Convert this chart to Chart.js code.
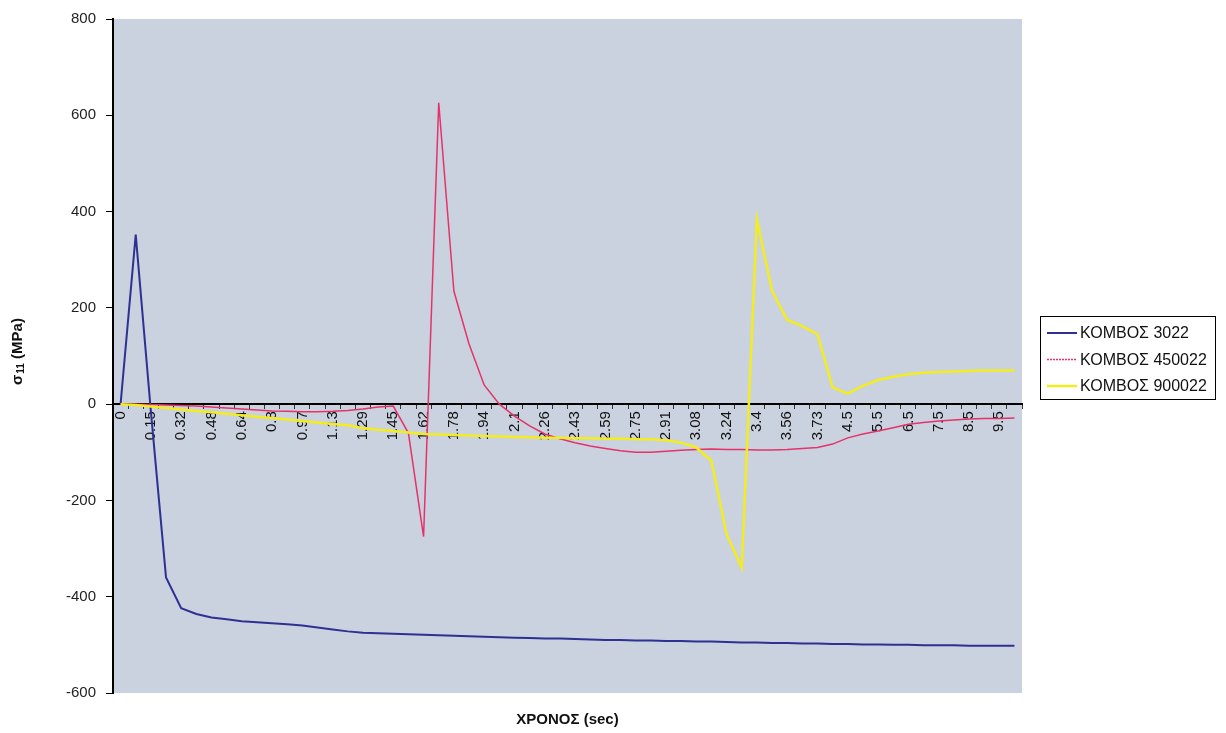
<!DOCTYPE html>
<html>
<head>
<meta charset="utf-8">
<script src="https://cdn.jsdelivr.net/npm/chart.js"></script>
<style>
  html, body { margin: 0; padding: 0; background: #ffffff; }
  #wrap { width: 1226px; height: 733px; }
</style>
</head>
<body>
<div id="wrap"><canvas id="myChart" width="1226" height="733"></canvas></div>
<script>
const timeLabels = [
  "0", "0.07", "0.15", "0.24", "0.32", "0.4", "0.48", "0.56", "0.64", "0.72",
  "0.8", "0.89", "0.97", "1.05", "1.13", "1.21", "1.29", "1.37", "1.45", "1.54",
  "1.62", "1.7", "1.78", "1.86", "1.94", "2.02", "2.1", "2.18", "2.26", "2.35",
  "2.43", "2.51", "2.59", "2.67", "2.75", "2.83", "2.91", "3", "3.08", "3.16",
  "3.24", "3.32", "3.4", "3.48", "3.56", "3.65", "3.73", "4", "4.5", "5",
  "5.5", "6", "6.5", "7", "7.5", "8", "8.5", "9", "9.5", "10",
];

const node3022 = [
  0, 352, -15, -360, -424, -436, -443, -447, -451, -453,
  -455, -457, -460, -464, -468, -472, -475, -476, -477, -478,
  -479, -480, -481, -482, -483, -484, -485, -486, -487, -487,
  -488, -489, -490, -490, -491, -491, -492, -492, -493, -493,
  -494, -495, -495, -496, -496, -497, -497, -498, -498, -499,
  -499, -500, -500, -501, -501, -501, -502, -502, -502, -502,
];

const node450022 = [
  0, 0, -1, -2, -3, -4, -6, -8, -10, -12,
  -14, -15, -16, -16, -15, -13, -10, -6, -4, -60,
  -275, 626, 235, 125, 40, 0, -25, -45, -62, -72,
  -80, -87, -92, -97, -100, -100, -98, -96, -94, -93,
  -94, -94, -95, -95, -94, -92, -90, -83, -70, -62,
  -56, -49, -42, -38, -35, -33, -31, -30, -30, -29,
];

const node900022 = [
  0, -2, -5, -8, -11, -14, -17, -20, -23, -26,
  -29, -32, -35, -38, -41, -44, -50, -53, -56, -59,
  -62, -63, -64, -65, -66, -67, -68, -69, -70, -70,
  -71, -71, -72, -72, -73, -73, -75, -80, -90, -118,
  -270, -340, 384, 235, 175, 162, 145, 35, 22, 38,
  50, 57, 62, 65, 67, 68, 69, 70, 70, 70,
];

const yTicks = [-600, -400, -200, 0, 200, 400, 600, 800];

const FONT = "Arial, 'Liberation Sans', sans-serif";

const excelLook = {
  id: "excelLook",
  beforeDraw(chart) {
    const { ctx, chartArea: a } = chart;
    ctx.save();
    ctx.fillStyle = "#cad1df";
    ctx.fillRect(a.left, a.top, a.right - a.left, a.bottom - a.top);
    ctx.restore();
  },
  afterDraw(chart) {
    const { ctx, chartArea: a } = chart;
    ctx.save();

    // x axis title
    ctx.fillStyle = "#111";
    ctx.font = "bold 15px " + FONT;
    ctx.textAlign = "center";
    ctx.textBaseline = "middle";
    ctx.fillText("ΧΡΟΝΟΣ (sec)", (a.left + a.right) / 2, 720);

    // y axis title with subscript
    ctx.translate(18, (a.top + a.bottom) / 2 - 4);
    ctx.rotate(-Math.PI / 2);
    ctx.textAlign = "left";
    ctx.textBaseline = "middle";
    const big = "bold 15px " + FONT;
    const small = "bold 10px " + FONT;
    ctx.font = big;
    const w1 = ctx.measureText("σ").width;
    const w3 = ctx.measureText(" (MPa)").width;
    ctx.font = small;
    const w2 = ctx.measureText("11").width;
    let x = -(w1 + w2 + w3) / 2;
    ctx.font = big;
    ctx.fillText("σ", x, 0);
    x += w1;
    ctx.font = small;
    ctx.fillText("11", x + 1, 3);
    x += w2 + 1;
    ctx.font = big;
    ctx.fillText(" (MPa)", x, 0);
    ctx.restore();

    // legend box
    ctx.save();
    const bx = 1040;
    const by = (a.top + a.bottom) / 2 - 40;
    ctx.fillStyle = "#ffffff";
    ctx.fillRect(bx, by, 175, 83);
    ctx.strokeStyle = "#000";
    ctx.lineWidth = 1;
    ctx.strokeRect(bx + 0.5, by + 0.5, 175, 83);
    ctx.font = "16px " + FONT;
    ctx.textAlign = "left";
    ctx.textBaseline = "middle";
    chart.data.datasets.forEach((ds, i) => {
      const ry = by + 17 + i * 26.5;
      ctx.strokeStyle = ds.borderColor;
      ctx.lineWidth = ds.borderWidth;
      ctx.setLineDash(i === 1 ? [2, 1] : []);
      ctx.beginPath();
      ctx.moveTo(bx + 7, ry);
      ctx.lineTo(bx + 37, ry);
      ctx.stroke();
      ctx.setLineDash([]);
      ctx.fillStyle = "#111";
      ctx.fillText(ds.label, bx + 40, ry + 1);
    });
    ctx.restore();
  },
};

function buildChart() {
  const ctx = document.getElementById("myChart").getContext("2d");

  return new Chart(ctx, {
    type: "line",
    data: {
      labels: timeLabels,
      datasets: [
        {
          label: "ΚΟΜΒΟΣ 3022",
          data: node3022,
          borderColor: "#2e3192",
          borderWidth: 2,
          order: 3,
        },
        {
          label: "ΚΟΜΒΟΣ 450022",
          data: node450022,
          borderColor: "#e5336a",
          borderWidth: 1.5,
          order: 2,
        },
        {
          label: "ΚΟΜΒΟΣ 900022",
          data: node900022,
          borderColor: "#f3ed1f",
          borderWidth: 2.5,
          order: 1,
        },
      ],
    },
    options: {
      responsive: false,
      animation: false,
      layout: {
        padding: { left: 0, top: 17, right: 204, bottom: 40 },
      },
      elements: {
        point: { radius: 0 },
        line: { tension: 0, fill: false },
      },
      plugins: {
        legend: { display: false },
        tooltip: { enabled: false },
      },
      scales: {
        x: {
          type: "category",
          position: { y: 0 },
          offset: true,
          border: { display: true, color: "#000", width: 2 },
          grid: {
            drawOnChartArea: false,
            drawTicks: true,
            tickLength: 4,
            color: "#333",
            offset: true,
          },
          ticks: {
            autoSkip: false,
            minRotation: 90,
            maxRotation: 90,
            padding: 3,
            color: "#111",
            font: { size: 15, family: FONT },
            callback: (value, index) => (index % 2 === 0 ? timeLabels[index] : ""),
          },
        },
        y: {
          min: yTicks[0],
          max: yTicks[yTicks.length - 1],
          border: { display: true, color: "#000", width: 2 },
          grid: { drawOnChartArea: false, tickLength: 7, color: "#000" },
          afterBuildTicks: (scale) => {
            scale.ticks = yTicks.map((v) => ({ value: v }));
          },
          afterFit: (scale) => {
            scale.width = 113;
          },
          ticks: {
            padding: 10,
            color: "#222",
            font: { size: 15, family: FONT },
          },
        },
      },
    },
    plugins: [excelLook],
  });
}

buildChart();
</script>
</body>
</html>
